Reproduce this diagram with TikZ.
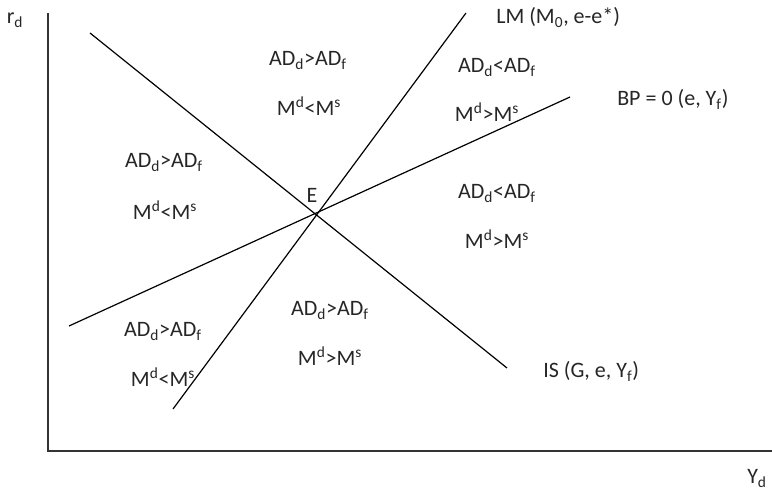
\documentclass[tikz,border=0pt]{standalone}
\usepackage{fontspec}
\setmainfont{Carlito}

\tikzset{
  lbl/.style={anchor=base,inner sep=0.75pt,font=\fontsize{16.5}{20}\selectfont,text=black!85},
  curve/.style={line width=0.9pt},
  axis/.style={line width=1.2pt,draw=black!80}
}

\begin{document}
\begin{tikzpicture}[x=0.75pt,y=0.75pt,yscale=-1,xscale=1]
	\path [use as bounding box] (0,0) rectangle (772,491);

	% Axes
	\coordinate (axtop) at (48,13);
	\coordinate (origin) at (48,451);
	\coordinate (axright) at (772,451);
	\draw [axis]    (axtop) -- (origin) -- (axright) ;
	% Text Node
	\node [lbl] (rd) at (15,24) {r\textsubscript{d}};
	% Text Node
	\node [lbl] (yd) at (757,484) {Y\textsubscript{d}};

	% Curve ends
	\coordinate (is1) at (90,33);
	\coordinate (is2) at (507,368);
	\coordinate (lm1) at (173,409);
	\coordinate (lm2) at (466,13);
	\coordinate (bp1) at (69,326);
	\coordinate (bp2) at (570,97);

	% Connection
	\draw [curve]    (is1) -- (is2) ;
	% Connection
	\draw [curve]    (lm1) -- (lm2) ;
	% Connection
	\draw [curve]    (bp1) -- (bp2) ;

	% Text Node
	\node [lbl,anchor=base west] (lm) at (495,24) {LM (M\textsubscript{0}, e-e*)};
	% Text Node
	\node [lbl,anchor=base west] (bp) at (616,106) {BP = 0 (e, Y\textsubscript{f})};
	% Text Node
	\node [lbl,anchor=base west] (is) at (542,378) {IS (G, e, Y\textsubscript{f})};
	% Text Node
	\node [lbl] (eq) at (312,203) {E};

	% Text Node
	\node [lbl] (adtop) at (308,66) {AD\textsubscript{d}>AD\textsubscript{f}};
	\node [lbl] (mtop) at (309,116) {M\textsuperscript{d}<M\textsuperscript{s}};
	% Text Node
	\node [lbl] (adright) at (497,73) {AD\textsubscript{d}<AD\textsubscript{f}};
	\node [lbl] (mright) at (487,122) {M\textsuperscript{d}>M\textsuperscript{s}};
	% Text Node
	\node [lbl] (adleft) at (164,168) {AD\textsubscript{d}>AD\textsubscript{f}};
	\node [lbl] (mleft) at (165,220) {M\textsuperscript{d}<M\textsuperscript{s}};
	% Text Node
	\node [lbl] (adlow) at (497,199) {AD\textsubscript{d}<AD\textsubscript{f}};
	\node [lbl] (mlow) at (497,249) {M\textsuperscript{d}>M\textsuperscript{s}};
	% Text Node
	\node [lbl] (adbot) at (330,316) {AD\textsubscript{d}>AD\textsubscript{f}};
	\node [lbl] (mbot) at (330,366) {M\textsuperscript{d}>M\textsuperscript{s}};
	% Text Node
	\node [lbl] (adcorner) at (163,337) {AD\textsubscript{d}>AD\textsubscript{f}};
	\node [lbl] (mcorner) at (163,387) {M\textsuperscript{d}<M\textsuperscript{s}};

\end{tikzpicture}
\end{document}
